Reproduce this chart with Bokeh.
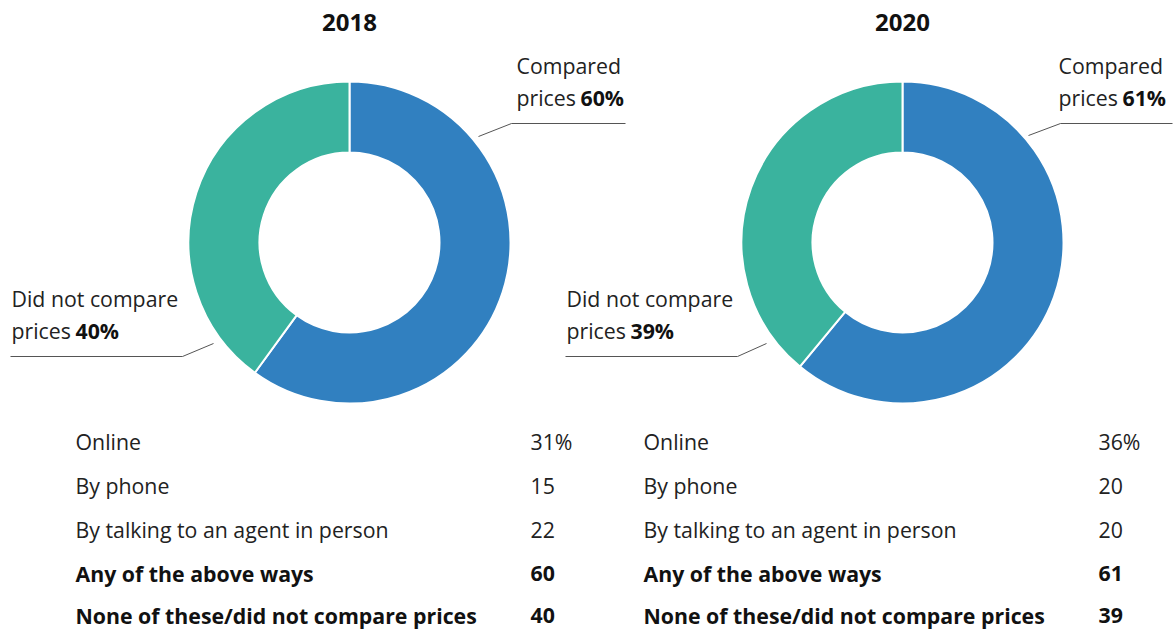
import numpy as np
from bokeh.plotting import figure
from bokeh.models import Range1d
from bokeh.embed import file_html
from bokeh.resources import INLINE
from bokeh.core.properties import value

# ---------------- data ----------------
years = ["2018", "2020"]
compared = [60, 61]
not_compared = [40, 39]
methods = ["Online", "By phone", "By talking to an agent in person",
           "Any of the above ways", "None of these/did not compare prices"]
vals_2018 = ["31%", "15", "22", "60", "40"]
vals_2020 = ["36%", "20", "20", "61", "39"]
bold_rows = [False, False, False, True, True]

BLUE = "#3180C0"
GREEN = "#3AB39E"
FONT = "Open Sans"
FS = "21.3px"

H = 631
def Y(y):
    return H - y

p = figure(width=1176, height=631, output_backend="svg", toolbar_location=None,
           x_range=Range1d(0, 1176), y_range=Range1d(0, 631))
p.axis.visible = False
p.grid.visible = False
p.outline_line_color = None
p.min_border = 0

centers_x = [349, 902]
cy = Y(242)
r_out, r_in = 161, 90

for i, yr in enumerate(years):
    cx = centers_x[i]
    shares = [compared[i], not_compared[i]]
    total = sum(shares)
    starts, ends = [], []
    a = np.pi / 2
    for s in shares:
        starts.append(a)
        a = a - 2 * np.pi * s / total
        ends.append(a)
    p.annular_wedge(x=[cx, cx], y=[cy, cy], inner_radius=r_in, outer_radius=r_out,
                    start_angle=starts, end_angle=ends, direction="clock",
                    fill_color=[BLUE, GREEN], line_color="white", line_width=2)
    p.text(x=[cx], y=[Y(22)], text=[yr], text_font=value(FONT), text_font_size="24px",
           text_font_style="bold", text_align="center", text_baseline="middle",
           text_color="#111111")

label_specs = [
    (516, "Compared", f"{compared[0]}%", [478, 511, 625], [136, 123, 123], (65, 97)),
    (11, "Did not compare", f"{not_compared[0]}%", [213, 182, 10], [343, 356, 356], (298, 330)),
    (1058, "Compared", f"{compared[1]}%", [1028, 1060, 1172], [135, 123, 123], (65, 97)),
    (566, "Did not compare", f"{not_compared[1]}%", [766, 737, 565], [343, 356, 356], (298, 330)),
]
for tx, l1, pct, lxs, lys, (y1, y2) in label_specs:
    p.text(x=[tx, tx], y=[Y(y1), Y(y2)], text=[l1, "prices"], text_font=value(FONT),
           text_font_size=FS, text_baseline="middle", text_color="#222222")
    p.text(x=[tx + 64], y=[Y(y2)], text=[pct], text_font=value(FONT), text_font_size=FS,
           text_font_style="bold", text_baseline="middle", text_color="#111111")
    p.line(x=lxs, y=[Y(v) for v in lys], line_color="#555555", line_width=1)

row_y = [441, 485, 529, 573, 615]
tables = [(75, 530, vals_2018), (643, 1098, vals_2020)]
for lx, vx, vals in tables:
    for j, m in enumerate(methods):
        style = "bold" if bold_rows[j] else "normal"
        col = "#111111" if bold_rows[j] else "#222222"
        p.text(x=[lx], y=[Y(row_y[j])], text=[m], text_font=value(FONT), text_font_size=FS,
               text_font_style=style, text_baseline="middle", text_color=col)
        p.text(x=[vx], y=[Y(row_y[j])], text=[vals[j]], text_font=value(FONT),
               text_font_size=FS, text_font_style=style, text_baseline="middle",
               text_color=col)

open("out.html", "w").write(file_html(p, INLINE))
